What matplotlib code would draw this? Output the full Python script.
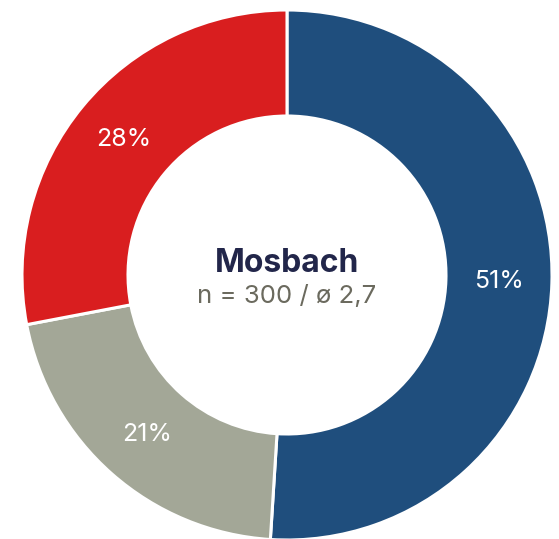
import matplotlib
matplotlib.use("Agg")
import matplotlib.pyplot as plt

categories = ["A", "B", "C"]
values = [51, 21, 28]
labels = ["51%", "21%", "28%"]
colors = ["#1F4E7D", "#A3A797", "#D91E1F"]
title = "Mosbach"
subtitle = "n = 300 / ø 2,7"

W, H = 559, 539
cx, cy, R = 287, 275, 265

fig = plt.figure(figsize=(W / 100, H / 100), dpi=100)
ax = fig.add_axes([0, 0, 1, 1])
wedges, texts = ax.pie(values, colors=colors, startangle=90, counterclock=False,
                       radius=1.0, labels=labels, labeldistance=0.8,
                       wedgeprops=dict(width=0.4, edgecolor="white", linewidth=2.2),
                       textprops=dict(color="white", fontsize=18, family="Inter"))
for t in texts:
    t.set_ha("center")
    t.set_va("center")
ax.set_aspect("auto")
ax.set_xlim(-cx / R, (W - cx) / R)
ax.set_ylim(-(H - cy) / R, cy / R)
ax.axis("off")

ax.text(0, (cy - 272) / R, title, ha="center", va="baseline", fontsize=23,
        fontweight="bold", color="#22264A", family="Inter")
ax.text(0, (cy - 303) / R, subtitle, ha="center", va="baseline", fontsize=18.5,
        color="#6B6A5E", family="Inter")

fig.savefig("out.png", dpi=100)
